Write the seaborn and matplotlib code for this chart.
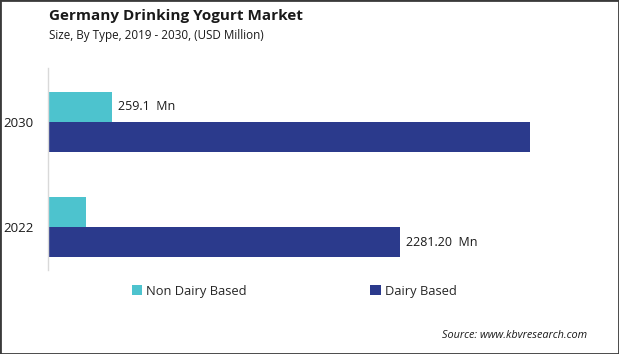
import matplotlib
matplotlib.use("Agg")
import matplotlib.pyplot as plt
import seaborn as sns
import pandas as pd
from matplotlib.patches import Rectangle, Patch

years = ["2030", "2022"]
types = ["Non Dairy Based", "Dairy Based"]
non_dairy = [415, 246]
dairy = [3124, 2281.2]
non_dairy_labels = ["259.1  Mn", ""]
dairy_labels = ["", "2281.20  Mn"]
colors = ["#4DC3CE", "#2B3A8C"]

df = pd.DataFrame({
    "Year": years * 2,
    "Type": [types[0]] * 2 + [types[1]] * 2,
    "Value": non_dairy + dairy,
})

sns.set_style("white")
plt.rcParams["font.family"] = ["Open Sans", "DejaVu Sans"]

fig = plt.figure(figsize=(6.19, 3.54), dpi=100)
W, H = 619, 354
left, right, top, bottom = 48, 603.5, 68, 270
ax = fig.add_axes([left / W, 1 - bottom / H, (right - left) / W, (bottom - top) / H])

sns.barplot(data=df, y="Year", x="Value", hue="Type", order=years,
            hue_order=types, palette=colors, orient="h", width=0.58,
            saturation=1, ax=ax, legend=False, linewidth=0, gap=0)

ax.set_xlim(0, 3600)
ax.set_ylim(1.41, -0.514)
ax.set_xlabel("")
ax.set_ylabel("")
ax.set_xticks([])
for s in ["top", "right", "bottom"]:
    ax.spines[s].set_visible(False)
ax.spines["left"].set_color("#D9D9D9")
ax.spines["left"].set_linewidth(1.0)
ax.tick_params(axis="y", length=0, labelsize=9.5, pad=10.5, colors="#1a1a1a")

ax.bar_label(ax.containers[0], labels=non_dairy_labels, padding=4, fontsize=9, color="#1a1a1a")
ax.bar_label(ax.containers[1], labels=dairy_labels, padding=4, fontsize=9, color="#1a1a1a")

fig.text(49 / W, 1 - 16 / H, "Germany Drinking Yogurt Market", fontsize=11,
         fontweight="bold", va="center", ha="left", color="#1a1a1a")
fig.text(49 / W, 1 - 35 / H, "Size, By Type, 2019 - 2030, (USD Million)", fontsize=8.4,
         va="center", ha="left", color="#1a1a1a")

handles = [Patch(facecolor=c, edgecolor="none") for c in colors]
fig.legend(handles, types, loc="center", bbox_to_anchor=(294 / W, 1 - 291 / H),
           ncol=2, frameon=False, fontsize=9.3, handlelength=0.8, handleheight=0.8,
           handletextpad=0.3, columnspacing=9.6)

fig.text(587 / W, 1 - 336 / H, "Source: www.kbvresearch.com", fontsize=7.8,
         style="italic", ha="right", va="center", color="#1a1a1a")

fig.patches.append(Rectangle((0, 0), 1, 1, transform=fig.transFigure, fill=False,
                             edgecolor="#3a3a3a", linewidth=2.0))

fig.savefig("out.png", dpi=100)
